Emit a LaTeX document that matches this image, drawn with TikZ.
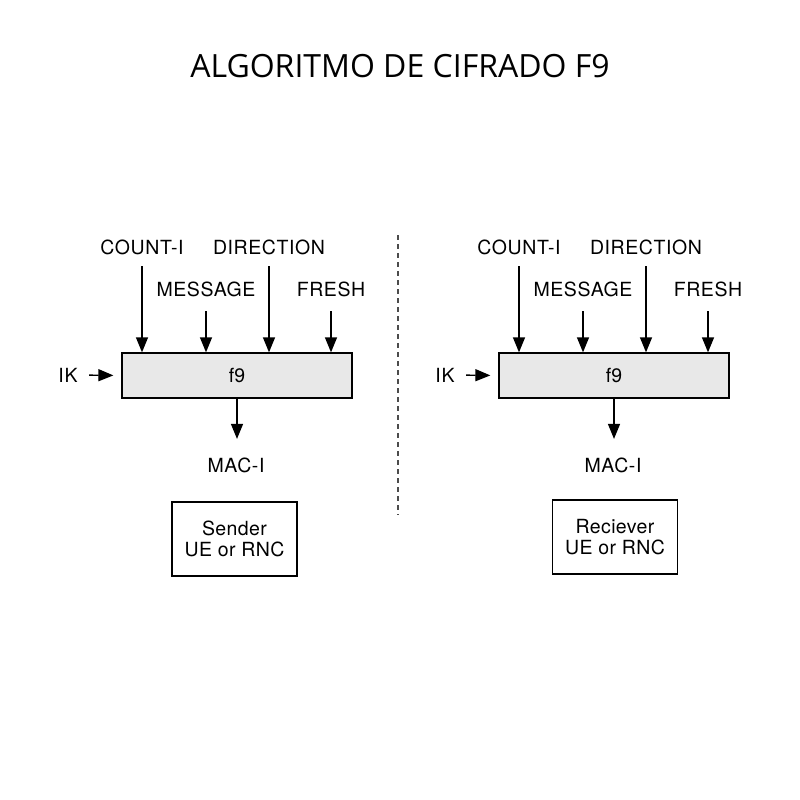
\documentclass[tikz,border=0pt]{standalone}
\usepackage{fontspec}
\setmainfont{TeX Gyre Heros}
\newfontfamily\titlefont{Open Sans}
\usetikzlibrary{arrows.meta}

\begin{document}
\begin{tikzpicture}[x=1pt, y=-1pt, line width=1.3pt,
        lbl/.style={inner sep=3pt, font=\fontsize{19.5}{22}\selectfont\addfontfeature{LetterSpace=3}},
        fbox/.style={draw, fill=black!9, minimum width=230pt, minimum height=45pt, inner sep=0pt, font=\fontsize{19.5}{22}\selectfont},
        ubox/.style={draw, fill=white, minimum width=125pt, minimum height=74pt, inner sep=0pt, align=center, font=\fontsize{19.5}{21.5}\selectfont\addfontfeature{LetterSpace=2}},
        arr/.style={-{Triangle[width=12pt, length=15pt]}}]
        \useasboundingbox[fill=white] (0,0) rectangle (800,800);

        \node[font=\titlefont\fontsize{32}{36}\selectfont] (title) at (400, 66.5) {ALGORITMO DE CIFRADO F9};

        \foreach \s/\dx in {L/0, R/377}
        {
            \node[fbox] (f\s) at (237+\dx, 375.5) {f9};
            \node[lbl] (cnt\s) at (142+\dx, 247) {COUNT-I};
            \node[lbl] (dir\s) at (269+\dx, 247) {DIRECTION};
            \node[lbl] (msg\s) at (206+\dx, 289) {MESSAGE};
            \node[lbl] (frs\s) at (331+\dx, 289) {FRESH};
            \node[lbl] (ik\s) at (68+\dx, 375) {IK};
            \node[lbl] (mac\s) at (236+\dx, 465) {MAC-I};

            \draw[arr, shorten <=8pt] (cnt\s.south) -- (cnt\s.south |- f\s.north);
            \draw[arr, shorten <=8pt] (dir\s.south) -- (dir\s.south |- f\s.north);
            \draw[arr, shorten <=11pt] (msg\s.south) -- (msg\s.south |- f\s.north);
            \draw[arr, shorten <=11pt] (frs\s.south) -- (frs\s.south |- f\s.north);
            \draw[arr, shorten <=8pt, shorten >=8pt] (ik\s.east) -- (f\s.west);
            \draw[arr, shorten >=15pt] (f\s.south) -- (f\s.south |- mac\s.north);
        }

        \node[ubox] (snd) at (234.5, 539) {Sender\\UE or RNC};
        \node[ubox] (rcv) at (615, 537) {Reciever\\UE or RNC};

        % divider
        \draw[black!70, line width=1.5pt, dash pattern=on 5pt off 4pt] (398, 235) -- (398, 515);
\end{tikzpicture}
\end{document}
